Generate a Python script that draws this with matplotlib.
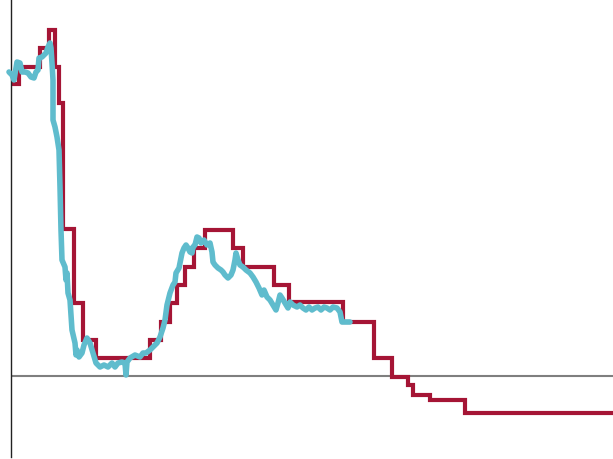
import matplotlib
matplotlib.use("Agg")
import matplotlib.pyplot as plt

# stepped series (value holds until the next x)
red_x = [0, 8, 29, 38, 44, 48, 52, 63, 72, 85, 139, 150, 159, 166, 174, 183, 194,
         222, 232, 263, 278, 332, 363, 381, 397, 402, 419, 454, 602]
red_y = [292, 309, 328, 346, 309, 273, 147, 73, 36, 18, 36, 54, 73, 91, 109, 128, 146,
         128, 109, 91, 74, 54, 18, -1, -9, -19, -24, -37, -37]

# noisy series
cyan_x = [-2, 1, 3, 6, 9, 11, 14, 17, 20, 23, 25, 27, 28, 31, 33, 35, 37, 39, 40, 41,
          42, 42, 42, 44, 46, 48, 49, 50, 51, 54, 55, 56, 57, 59, 61, 64, 65, 66, 68, 71,
          73, 76, 79, 82, 85, 89, 93, 97, 101, 104, 107, 111, 114, 115, 116, 119, 124, 129, 132, 135,
          139, 142, 146, 149, 152, 154, 156, 159, 162, 164, 165, 168, 170, 171, 173, 175, 177, 179, 181, 182,
          184, 186, 188, 190, 193, 196, 199, 201, 202, 204, 207, 210, 212, 214, 217, 220, 222, 224, 225, 227,
          229, 232, 235, 239, 242, 245, 248, 251, 253, 256, 259, 262, 265, 267, 269, 271, 274, 277, 279, 282,
          286, 289, 292, 295, 298, 301, 304, 307, 310, 313, 316, 319, 322, 326, 329, 331, 339]
cyan_y = [304, 301, 296, 314, 313, 304, 304, 303, 299, 298, 304, 306, 318, 319, 321, 323, 329, 333, 328, 313,
          296, 276, 256, 249, 239, 226, 189, 146, 116, 109, 96, 103, 83, 76, 46, 33, 21, 26, 19, 23,
          31, 38, 33, 23, 13, 9, 11, 9, 13, 9, 13, 14, 13, 1, 14, 18, 21, 19, 23, 23,
          26, 29, 33, 39, 48, 56, 71, 83, 91, 94, 103, 108, 118, 123, 128, 131, 128, 124, 123, 129,
          131, 139, 138, 133, 136, 131, 133, 124, 114, 111, 108, 106, 104, 101, 98, 101, 106, 116, 123, 116,
          111, 109, 106, 103, 99, 94, 88, 81, 86, 79, 76, 71, 66, 73, 81, 78, 73, 68, 74, 71,
          69, 71, 68, 66, 69, 66, 68, 69, 66, 69, 68, 66, 69, 68, 64, 54, 54]

RED = "#a51535"
CYAN = "#5fbccd"

fig = plt.figure(figsize=(6.13, 4.59), dpi=100)
ax = fig.add_axes([11 / 613, 2 / 459, 602 / 613, 457 / 459])

ax.plot(red_x, red_y, drawstyle="steps-post", color=RED, lw=3,
        solid_joinstyle="miter", zorder=2)
ax.plot(cyan_x, cyan_y, color=CYAN, lw=4, solid_joinstyle="round",
        solid_capstyle="round", zorder=3, clip_on=False)
ax.axhline(0, color="#7f7f7f", lw=1.5, zorder=1)

ax.set_xlim(0, 602)
ax.set_ylim(-81, 376)
for side in ["top", "right", "bottom"]:
    ax.spines[side].set_visible(False)
ax.spines["left"].set_color("#222222")
ax.spines["left"].set_linewidth(1)
ax.set_xticks([])
ax.set_yticks([])

fig.savefig("out.png", dpi=100, facecolor="white")
